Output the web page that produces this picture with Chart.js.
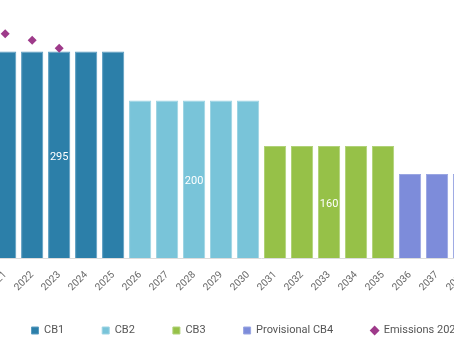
<!DOCTYPE html>
<html>
<head>
<meta charset="utf-8">
<script src="https://cdn.jsdelivr.net/npm/chart.js@4/dist/chart.umd.min.js"></script>
<style>
  html, body { margin: 0; padding: 0; background: #fff; width: 454px; height: 341px; overflow: hidden; }
  #wrap { position: absolute; left: -22px; top: 0; width: 565px; height: 353px; }
</style>
</head>
<body>
<div id="wrap"><canvas id="c"></canvas></div>
<script>
// Years on the category axis
const years = ['2021','2022','2023','2024','2025','2026','2027','2028','2029','2030',
               '2031','2032','2033','2034','2035','2036','2037','2038','2039','2040'];

// Annual budget level for each year of each carbon budget period (MtCO2e)
const cb1Annual = [59, 59, 59, 59, 59];
const cb2Annual = [45, 45, 45, 45, 45];
const cb3Annual = [32, 32, 32, 32, 32];
const cb4Annual = [24, 24, 24, 24, 24];

// Total budget for each period, printed on the middle bar
const budgetTotals = ['295', '200', '160', ''];

// Recorded emissions
const emissions = [64.1, 62.2, 59.9];

const seriesNames = ['CB1', 'CB2', 'CB3', 'Provisional CB4', 'Emissions 2021-2023'];
const colors = ['#2c7fa9', '#79c4d9', '#96c148', '#7d8cda', '#9e3a8a'];
const edgeColors = ['#5a9cc0', '#9dd4e3', '#b0d278', '#9aa6e2'];

const periods = [cb1Annual, cb2Annual, cb3Annual, cb4Annual];

// Place each period's values in its own five-year slot
function placePeriod(values, index) {
  const out = years.map(() => null);
  values.forEach((v, i) => { out[index * 5 + i] = v; });
  return out;
}

const barSets = periods.map((vals, i) => ({
  type: 'bar',
  label: seriesNames[i],
  data: placePeriod(vals, i),
  backgroundColor: colors[i],
  borderColor: edgeColors[i],
  borderWidth: 1,
  borderSkipped: 'bottom',
  barPercentage: 0.823,
  categoryPercentage: 1,
  skipNull: true,
  pointStyle: 'rect',
  order: 2
}));

const emissionSet = {
  type: 'line',
  label: seriesNames[4],
  data: years.map((y, i) => (i < emissions.length ? emissions[i] : null)),
  showLine: false,
  pointStyle: 'rectRot',
  pointRadius: 4.5,
  pointHoverRadius: 4.5,
  backgroundColor: colors[4],
  borderColor: colors[4],
  borderWidth: 0,
  order: 1
};

// Writes each period's total on its middle bar
const totalsLabels = {
  id: 'totalsLabels',
  afterDatasetsDraw(chart) {
    const ctx = chart.ctx;
    ctx.save();
    ctx.fillStyle = '#ffffff';
    ctx.font = '11px Roboto';
    ctx.textAlign = 'center';
    ctx.textBaseline = 'middle';
    periods.forEach((vals, i) => {
      const text = budgetTotals[i];
      if (!text) return;
      const meta = chart.getDatasetMeta(i);
      const bar = meta.data[i * 5 + 2];
      if (!bar) return;
      ctx.fillText(text, bar.x, (bar.y + bar.base) / 2 + 2);
    });
    ctx.restore();
  }
};

// Pulls the legend row a little closer to the rotated year labels
const legendLift = {
  id: 'legendLift',
  afterLayout(chart) {
    const lg = chart.legend;
    if (lg) { lg.top -= 7; lg.bottom -= 7; }
  }
};

new Chart(document.getElementById('c'), {
  data: { labels: years, datasets: [...barSets, emissionSet] },
  options: {
    responsive: true,
    maintainAspectRatio: false,
    animation: false,
    layout: { padding: { left: 11.5, right: 11.5, top: 13, bottom: 0 } },
    scales: {
      x: {
        grid: { display: false, drawTicks: false },
        border: { display: true, color: '#dcdcdc' },
        ticks: {
          color: '#666',
          font: { family: 'Roboto', size: 10 },
          maxRotation: 45,
          minRotation: 45,
          padding: 11,
          autoSkip: false
        },
        afterFit(scale) { scale.height = 36; }
      },
      y: {
        display: false,
        min: 0,
        max: 70
      }
    },
    plugins: {
      legend: {
        position: 'bottom',
        labels: {
          usePointStyle: true,
          boxWidth: 7,
          boxHeight: 7,
          padding: 38,
          color: '#555',
          font: { family: 'Roboto', size: 11 },
          sort: (a, b) => a.datasetIndex - b.datasetIndex
        }
      },
      tooltip: { enabled: false }
    }
  },
  plugins: [totalsLabels, legendLift]
});
</script>
</body>
</html>
